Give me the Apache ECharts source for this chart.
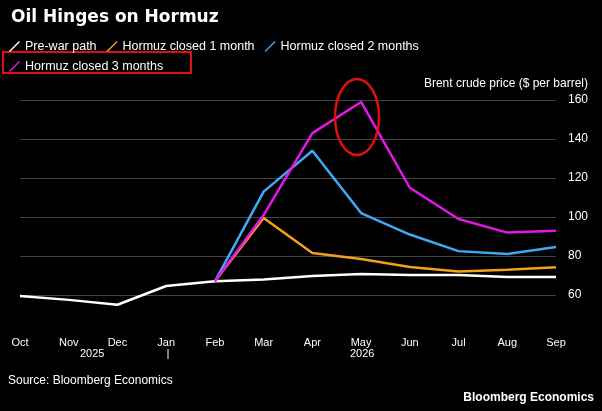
<!DOCTYPE html>
<html><head><meta charset="utf-8">
<script src="https://cdn.jsdelivr.net/npm/echarts@6/dist/echarts.min.js"></script>
<style>html,body{margin:0;background:#000}#c{width:602px;height:411px}</style>
</head><body><div id="c"></div>
<script>
const months = ["Oct","Nov","Dec","Jan","Feb","Mar","Apr","May","Jun","Jul","Aug","Sep"];
const preWar = [59.5,57.5,55,64.6,67,68,69.7,70.8,70.3,70.2,69.2,69.2];
const closed1 = [null,null,null,null,67,99.5,81.5,78.5,74.4,72,73,74.2];
const closed2 = [null,null,null,null,67,113,134,102,91,82.5,81,84.6];
const closed3 = [null,null,null,null,67,101,143,159,115,99,92,93];
const yTicks = [60,80,100,120,140,160];
const names = ["Pre-war path","Hormuz closed 1 month","Hormuz closed 2 months","Hormuz closed 3 months"];
const colors = ["#ffffff","#f5a01a","#3fa9f5","#e815e8"];
const chart = echarts.init(document.getElementById('c'));
const font = "Arial, 'Liberation Sans', sans-serif";
const mk = (i,d)=>({name:names[i],type:'line',data:d,symbol:'none',clip:false,
  lineStyle:{width:2.5,color:colors[i]},itemStyle:{color:colors[i]},z:i+2});
chart.setOption({
  backgroundColor:'#000',
  animation:false,
  title:{text:'Oil Hinges on Hormuz',left:6,top:4,textStyle:{color:'#fff',fontSize:17,fontWeight:900,fontFamily:"'DejaVu Sans', sans-serif"}},
  legend:[
    {data:names.slice(0,3),left:4,top:35,icon:'path://M0 10L10 0L11 1L1 11Z',itemWidth:11,itemHeight:11,itemGap:10,
     textStyle:{color:'#fff',fontSize:12.5,fontFamily:font}},
    {data:[names[3]],left:4,top:55,icon:'path://M0 10L10 0L11 1L1 11Z',itemWidth:11,itemHeight:11,
     textStyle:{color:'#fff',fontSize:12.5,fontFamily:font}}
  ],
  grid:{left:20,right:46,top:100,bottom:116},
  xAxis:{type:'category',data:months,boundaryGap:false,
    axisLine:{show:false},axisTick:{show:false},
    axisLabel:{color:'#fff',fontSize:11,margin:42,fontFamily:font}},
  yAxis:{type:'value',position:'right',min:60,max:160,interval:20,
    axisLabel:{color:'#fff',fontSize:12,margin:12,fontFamily:font},
    splitLine:{lineStyle:{color:'#444',width:1}}},
  series:[mk(0,preWar),mk(1,closed1),mk(2,closed2),mk(3,closed3)],
  graphic:[
    {type:'rect',shape:{x:3,y:52,width:188,height:21},style:{fill:'none',stroke:'#e01010',lineWidth:2}},
    {type:'ellipse',shape:{cx:357,cy:117,rx:22,ry:38},style:{fill:'none',stroke:'#e01010',lineWidth:2.5},z:20},
    {type:'text',right:14,top:78,style:{text:'Brent crude price ($ per barrel)',fill:'#fff',fontSize:12,fontFamily:font}},
    {type:'text',left:80,top:348,style:{text:'2025',fill:'#fff',fontSize:11,fontFamily:font}},
    {type:'text',left:350,top:348,style:{text:'2026',fill:'#fff',fontSize:11,fontFamily:font}},
    {type:'line',shape:{x1:168,y1:349,x2:168,y2:359},style:{stroke:'#fff',lineWidth:1}},
    {type:'text',left:8,top:375,style:{text:'Source: Bloomberg Economics',fill:'#fff',fontSize:12,fontFamily:font}},
    {type:'text',right:8,top:392,style:{text:'Bloomberg Economics',fill:'#fff',fontSize:12,fontWeight:'bold',fontFamily:font}}
  ]
});
</script></body></html>
